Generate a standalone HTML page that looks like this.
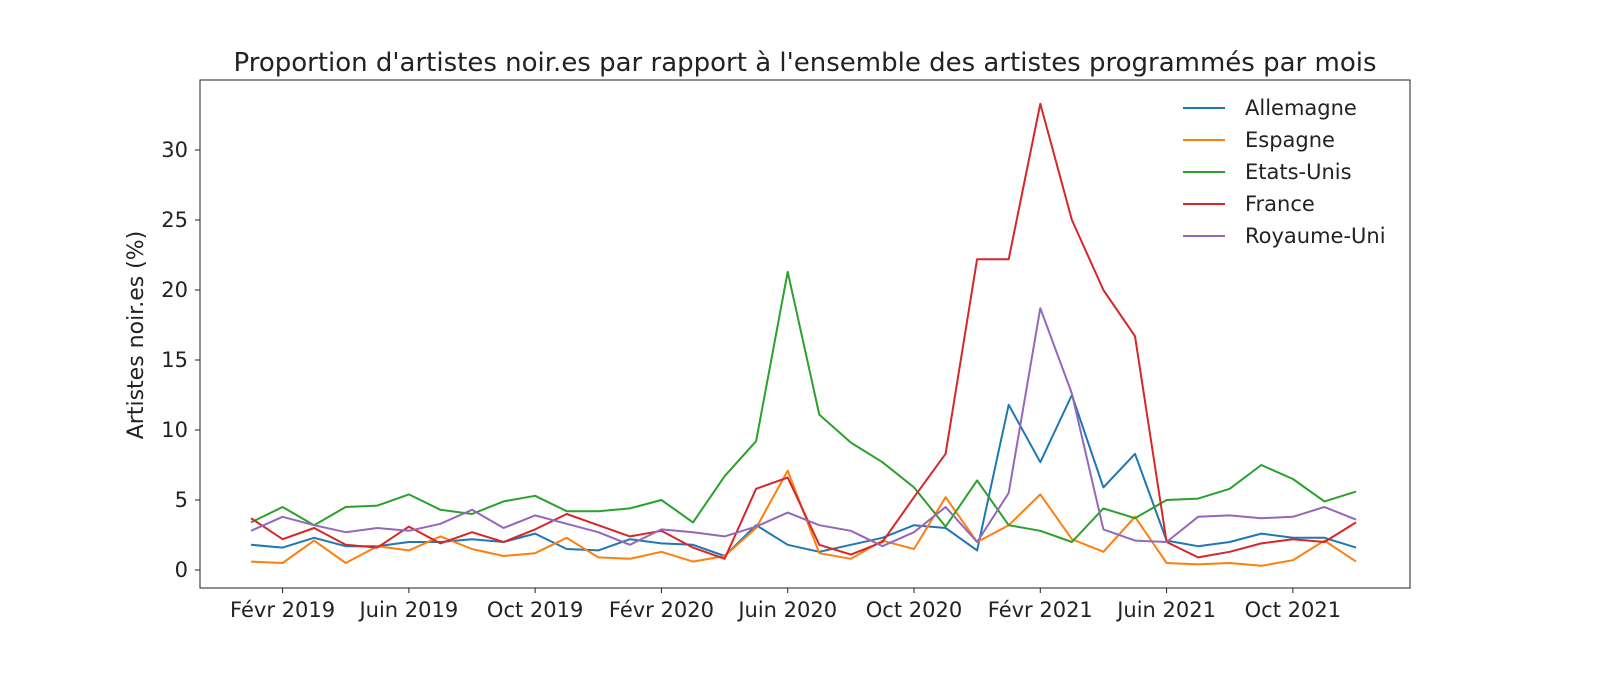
<!DOCTYPE html>
<html><head><meta charset="utf-8">
<style>
html,body{margin:0;padding:0;background:#fff;}
svg{display:block;font-family:"DejaVu Sans","Liberation Sans",sans-serif;}
</style></head>
<body>
<svg id="chart" width="1600" height="686" viewBox="0 0 1600 686">
<text x="805" y="71" font-size="26" text-anchor="middle" fill="#222">Proportion d'artistes noir.es par rapport à l'ensemble des artistes programmés par mois</text>
<text transform="translate(143,335) rotate(-90)" font-size="22" text-anchor="middle" fill="#222">Artistes noir.es (%)</text>
<g id="plot"></g>
<rect x="200" y="80" width="1210" height="508" fill="none" stroke="#222" stroke-width="1"/>
<g id="legend"></g>
</svg>
<script>
const seriesNames = ["Allemagne","Espagne","Etats-Unis","France","Royaume-Uni"];
const seriesColors = ["#1f77b4","#ff7f0e","#2ca02c","#d62728","#9467bd"];
const allemagne = [1.8,1.6,2.3,1.7,1.7,2.0,2.0,2.2,2.0,2.6,1.5,1.4,2.2,1.9,1.8,1.0,3.2,1.8,1.3,1.8,2.3,3.2,3.0,1.4,11.8,7.7,12.5,5.9,8.3,2.1,1.7,2.0,2.6,2.3,2.3,1.6];
const espagne = [0.6,0.5,2.1,0.5,1.7,1.4,2.4,1.5,1.0,1.2,2.3,0.9,0.8,1.3,0.6,1.0,3.0,7.1,1.2,0.8,2.1,1.5,5.2,2.0,3.2,5.4,2.2,1.3,3.8,0.5,0.4,0.5,0.3,0.7,2.1,0.6];
const etatsUnis = [3.4,4.5,3.2,4.5,4.6,5.4,4.3,4.0,4.9,5.3,4.2,4.2,4.4,5.0,3.4,6.7,9.2,21.3,11.1,9.1,7.7,5.9,3.1,6.4,3.2,2.8,2.0,4.4,3.7,5.0,5.1,5.8,7.5,6.5,4.9,5.6];
const france = [3.7,2.2,3.0,1.8,1.6,3.1,1.9,2.7,2.0,2.9,4.0,3.2,2.4,2.8,1.6,0.8,5.8,6.6,1.8,1.1,2.0,5.2,8.3,22.2,22.2,33.3,25.0,20.0,16.7,2.0,0.9,1.3,1.9,2.2,2.0,3.4];
const royaumeUni = [2.8,3.8,3.2,2.7,3.0,2.8,3.3,4.3,3.0,3.9,3.3,2.7,1.8,2.9,2.7,2.4,3.1,4.1,3.2,2.8,1.7,2.7,4.5,2.0,5.5,18.7,12.6,2.9,2.1,2.0,3.8,3.9,3.7,3.8,4.5,3.6];
const xTickLabels = ["Févr 2019","Juin 2019","Oct 2019","Févr 2020","Juin 2020","Oct 2020","Févr 2021","Juin 2021","Oct 2021"];
const xTickIndex = [1,5,9,13,17,21,25,29,33];
const yTicks = [0,5,10,15,20,25,30];

const allSeries = [allemagne,espagne,etatsUnis,france,royaumeUni];
const NS="http://www.w3.org/2000/svg";
const svg=document.getElementById('chart');
const plot=document.getElementById('plot');
const legend=document.getElementById('legend');
function xScale(i){return 251+i*(1356-251)/35;}
function yScale(v){return 570-v*14;}
function mk(t,a,p){const e=document.createElementNS(NS,t);for(const k in a)e.setAttribute(k,a[k]);(p||svg).appendChild(e);return e;}

yTicks.forEach(v=>{
  const y=yScale(v);
  const t=mk('line',{x1:195,x2:200,y1:y,y2:y,stroke:'#222'});
  
  
  const l=mk('text',{x:188,y:y+7,'font-size':21,'text-anchor':'end',fill:'#222'});
  
  
  l.textContent=v;
});
xTickIndex.forEach((idx,k)=>{
  const x=xScale(idx);
  const t=mk('line',{x1:x,x2:x,y1:588,y2:593,stroke:'#222'});
  
  
  const l=mk('text',{x:x,y:617,'font-size':21,'text-anchor':'middle',fill:'#222'});
  
  
  l.textContent=xTickLabels[k];
});
allSeries.forEach((s,k)=>{
  const pts=s.map((v,i)=>xScale(i).toFixed(1)+','+yScale(v).toFixed(1)).join(' ');
  const p=mk('polyline',{points:pts,fill:'none',stroke:seriesColors[k],'stroke-width':2,'stroke-linejoin':'round'},plot);
  
  
});
seriesNames.forEach((n,k)=>{
  const y=108+k*32;
  const g=mk('g',{},legend);
  
  
  mk('line',{x1:1183,x2:1225,y1:y,y2:y,stroke:seriesColors[k],'stroke-width':2},g);
  const t=mk('text',{x:1245,y:y+7,'font-size':21,fill:'#222'},g);
  t.textContent=n;
});
</script>
</body></html>
